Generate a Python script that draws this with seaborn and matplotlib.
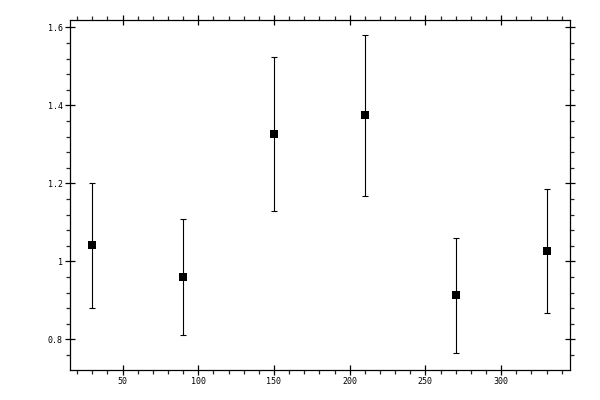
import numpy as np
import pandas as pd
import seaborn as sns
import matplotlib
matplotlib.use("Agg")
import matplotlib.pyplot as plt
from matplotlib.ticker import MultipleLocator, FormatStrFormatter, FuncFormatter

# data
angles = [30, 90, 150, 210, 270, 330]
ratio = [1.041, 0.959, 1.326, 1.374, 0.913, 1.026]
err = [0.160, 0.149, 0.198, 0.206, 0.147, 0.159]

df = pd.DataFrame({"x": angles, "y": ratio, "err": err})

sns.set_style("ticks")
plt.rcParams['font.family'] = ['DejaVu Sans Mono', 'DejaVu Sans']

fig = plt.figure(figsize=(6, 4), dpi=100)
ax = fig.add_axes([69.5 / 600, 30 / 400, 500.5 / 600, 350.5 / 400])

ax.errorbar(df["x"], df["y"], yerr=df["err"], fmt="none", ecolor="black",
            elinewidth=0.8, capsize=2, capthick=0.8)
sns.scatterplot(data=df, x="x", y="y", marker="s", s=28, color="black",
                edgecolor="black", linewidth=0, ax=ax, zorder=3)

ax.set_xlim(15, 345.5)
ax.set_ylim(0.7213, 1.62)
ax.xaxis.set_major_locator(MultipleLocator(50))
ax.xaxis.set_minor_locator(MultipleLocator(10))
ax.yaxis.set_major_locator(MultipleLocator(0.2))
ax.yaxis.set_minor_locator(MultipleLocator(0.04))
ax.yaxis.set_major_formatter(FuncFormatter(lambda v, p: "%g" % round(v, 2)))
ax.set_xlabel("")
ax.set_ylabel("")

for s in ax.spines.values():
    s.set_visible(True)
    s.set_linewidth(0.9)
    s.set_color("black")

ax.tick_params(which="major", direction="inout", length=6.5, width=0.9,
               top=True, right=True, labelsize=6, pad=1.5, colors="black")
ax.tick_params(which="minor", direction="out", length=2.7, width=0.9,
               top=True, right=True)

fig.savefig("out.png", dpi=100)
